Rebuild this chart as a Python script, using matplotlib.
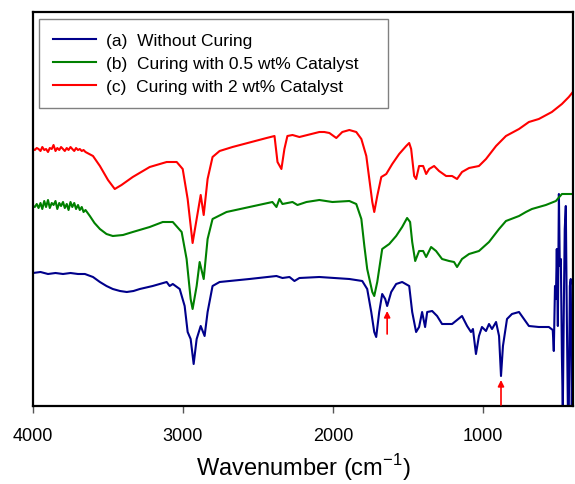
import numpy as np
import matplotlib.pyplot as plt

plt.rcParams['font.family'] = ['Liberation Sans', 'DejaVu Sans']

# FTIR spectra, arbitrary offset units
wn_a = [4000, 3950, 3900, 3850, 3800, 3750, 3700, 3654, 3600, 3554, 3510, 3468, 3420, 3375,
        3330, 3288, 3202, 3109, 3089, 3068, 3022,
        2989, 2969, 2949, 2929, 2909, 2882, 2856, 2836, 2803, 2756, 2557, 2377, 2337, 2290,
        2257, 2224, 2091, 1891, 1805, 1772, 1745, 1725, 1712, 1692, 1672, 1652, 1639, 1612,
        1579, 1539, 1492, 1472, 1446, 1426, 1406, 1386, 1372, 1339, 1306, 1273, 1206, 1140,
        1106, 1080, 1067, 1047, 1027, 1007, 980, 960, 940, 913, 893, 880, 867, 840, 807,
        760, 727, 694, 628, 561, 535, 528, 520, 514, 508, 501, 494, 488, 481, 474, 468,
        461, 455, 448, 441, 434, 428, 421, 415, 408, 401]
val_a = [133, 134, 132, 133, 132, 133, 132, 132, 129, 124, 120, 117, 115, 114,
         115, 117, 120, 124, 120, 122, 117,
         100, 74, 67, 42, 67, 80, 70, 94, 120, 124, 127, 130, 128, 129,
         125, 128, 129, 127, 125, 117, 94, 74, 69, 94, 112, 107, 100, 114,
         122, 124, 120, 94, 74, 79, 94, 79, 94, 95, 90, 82, 82, 90,
         80, 74, 77, 52, 70, 79, 75, 82, 77, 84, 70, 30, 60, 87, 92,
         94, 87, 80, 79, 79, 76, 55, 120, 107, 157, 80, 212, 140, 147, 50, -5,
         100, 177, 200, 87, -5, -5, 120, 127, -5, 94]

wn_b = [4000, 3988, 3975, 3963, 3950, 3938, 3925, 3913, 3900, 3888, 3875, 3863, 3850, 3838,
        3825, 3813, 3800, 3788, 3775, 3763, 3750, 3738, 3725, 3713, 3700, 3688, 3675, 3663,
        3650, 3621, 3590, 3554, 3510, 3468, 3400, 3335, 3222, 3135, 3068, 3009, 2976, 2949,
        2936, 2909, 2889, 2862, 2836, 2803, 2710, 2557, 2404, 2377, 2357, 2337, 2270, 2237,
        2177, 2091, 2004, 1891, 1845, 1811, 1791, 1772, 1738, 1725, 1705, 1672, 1625, 1579,
        1539, 1506, 1486, 1472, 1452, 1426, 1399, 1379, 1346, 1313, 1273, 1226, 1193, 1173,
        1140, 1093, 1027, 960, 893, 847, 760, 714, 674, 581, 514, 474, 401]
val_b = [200, 199, 202, 198, 203, 197, 205, 199, 206, 198, 203, 201, 205, 197,
         203, 200, 204, 198, 202, 196, 204, 199, 203, 197, 201, 196, 199, 194,
         196, 190, 183, 177, 172, 170, 171, 174, 179, 184, 184, 174, 147, 107,
         97, 120, 144, 127, 167, 187, 194, 199, 204, 199, 207, 202, 204, 201,
         204, 206, 204, 205, 202, 187, 160, 137, 114, 110, 124, 157, 162, 170,
         179, 188, 184, 164, 145, 155, 155, 149, 159, 155, 147, 145, 144, 139,
         147, 152, 155, 164, 177, 185, 190, 194, 197, 201, 205, 212, 212]

wn_c = [4000, 3988, 3975, 3963, 3950, 3938, 3925, 3913, 3900, 3888, 3875, 3863, 3850, 3838,
        3825, 3813, 3800, 3788, 3775, 3763, 3750, 3738, 3725, 3713, 3700, 3688, 3675, 3663,
        3650, 3600, 3554, 3500, 3455, 3410, 3335, 3222, 3109, 3042, 3002, 2969, 2936, 2909,
        2882, 2862, 2836, 2803, 2756, 2670, 2443, 2390, 2370, 2344, 2324, 2304, 2270, 2224,
        2091, 2058, 2024, 1978, 1938, 1891, 1845, 1811, 1778, 1758, 1738, 1725, 1705, 1678,
        1645, 1605, 1559, 1512, 1492, 1479, 1459, 1446, 1426, 1399, 1379, 1359, 1326, 1293,
        1246, 1206, 1173, 1140, 1093, 1027, 980, 913, 847, 760, 694, 628, 541, 474, 428, 401]
val_c = [257, 256, 258, 257, 255, 259, 256, 257, 254, 258, 257, 261, 255, 258,
         256, 259, 257, 255, 258, 256, 259, 257, 255, 258, 256, 257, 255, 256,
         254, 250, 240, 226, 217, 221, 229, 239, 244, 244, 237, 207, 163, 187,
         211, 191, 227, 249, 255, 259, 268, 270, 244, 237, 257, 270, 271, 269,
         274, 274, 273, 268, 274, 276, 274, 267, 250, 227, 204, 194, 210, 229,
         232, 242, 252, 260, 263, 257, 230, 227, 240, 240, 232, 237, 240, 235,
         230, 230, 227, 234, 238, 240, 247, 260, 270, 277, 284, 287, 294, 302, 309, 314]

labels = ['(a)  Without Curing', '(b)  Curing with 0.5 wt% Catalyst',
          '(c)  Curing with 2 wt% Catalyst']
colors = ['#00008B', '#008000', '#FF0000']

# marked bands (wavenumber, arrow tail, arrow head)
arrow_wn = [1639, 880]
arrow_tail = [72, 1]
arrow_head = [95, 26]

fig = plt.figure(figsize=(5.75, 4.85), dpi=100)
ax = fig.add_axes([33 / 575, 78 / 485, 540 / 575, 394 / 485])

for wn, val, lab, col in zip([wn_a, wn_b, wn_c], [val_a, val_b, val_c], labels, colors):
    ax.plot(wn, val, color=col, lw=1.5, label=lab)

for w, t, h in zip(arrow_wn, arrow_tail, arrow_head):
    ax.annotate('', xy=(w, h), xytext=(w, t),
                arrowprops=dict(arrowstyle='-|>', color='red', lw=1.2,
                                mutation_scale=9, shrinkA=0, shrinkB=0))

ax.set_xlim(4000, 400)
ax.set_ylim(0, 394)
ax.set_xticks([4000, 3000, 2000, 1000])
ax.tick_params(axis='x', labelsize=13, length=5, width=1, pad=10, color='#555555')
ax.set_yticks([])
for s in ax.spines.values():
    s.set_linewidth(1.6)
ax.set_xlabel('Wavenumber (cm$^{\\mathregular{-1}}$)', fontsize=17, labelpad=5)

leg = ax.legend(loc='upper left', bbox_to_anchor=(6 / 540, 0, 349 / 540, 1 - 7 / 394),
                mode='expand', borderaxespad=0,
                fontsize=12.5, handlelength=2.5, labelspacing=0.45, fancybox=False,
                edgecolor='gray', framealpha=1, borderpad=0.8, handletextpad=0.55)
leg.get_frame().set_linewidth(1.0)

fig.savefig('out.png', dpi=100)
